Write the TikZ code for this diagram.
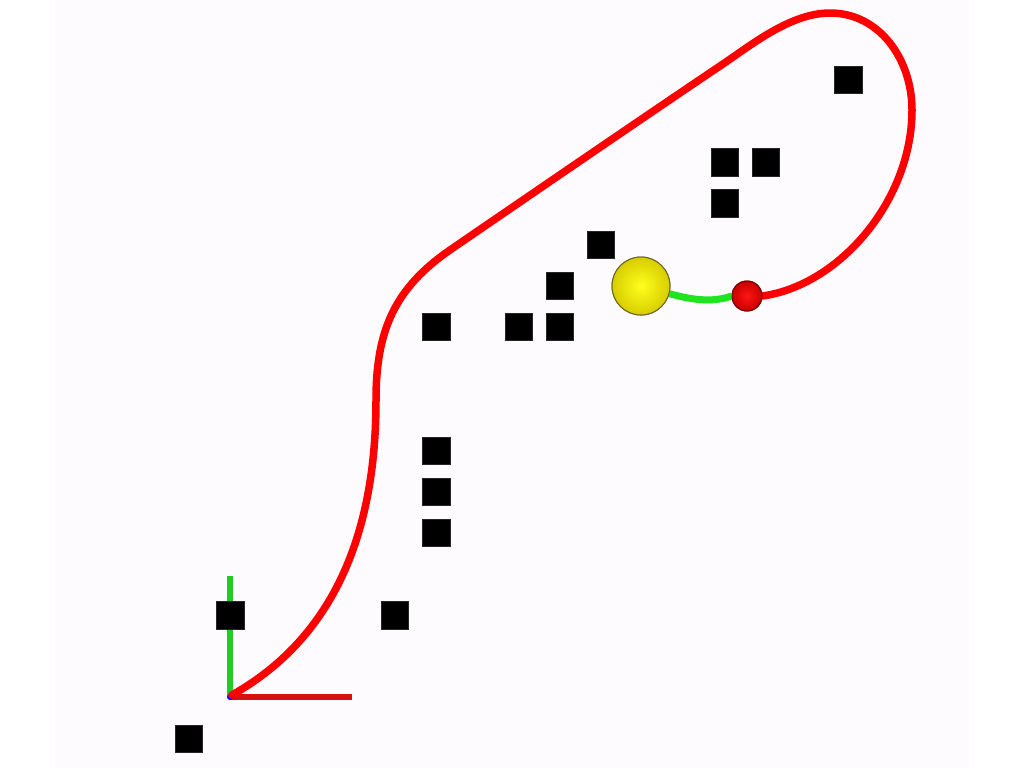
\documentclass[tikz,border=0pt]{standalone}
\definecolor{panel}{RGB}{253,251,254}
\definecolor{pathred}{RGB}{255,0,0}
\definecolor{axred}{RGB}{216,16,16}
\definecolor{axgreen}{RGB}{34,204,34}
\definecolor{linkgreen}{RGB}{30,230,30}
\definecolor{ballin}{RGB}{255,255,30}
\definecolor{ballout}{RGB}{215,205,0}
\definecolor{balledge}{RGB}{110,100,40}
\definecolor{goalin}{RGB}{255,20,20}
\definecolor{goalout}{RGB}{200,0,0}
\definecolor{goaledge}{RGB}{120,0,0}
\begin{document}
\begin{tikzpicture}[x=1pt,y=-1pt,
  obs/.style={fill=black,draw=black!85,line width=0.6pt,minimum size=27.5pt,inner sep=0pt,outer sep=0pt},
  pathline/.style={draw=pathred,line width=7.5pt,line cap=round,line join=round},
  axisx/.style={draw=axred,line width=6.5pt},
  axisy/.style={draw=axgreen,line width=6.5pt},
  link/.style={draw=linkgreen,line width=7pt},
  ballstyle/.style={circle,minimum size=58pt,inner sep=0pt,draw=balledge,line width=1pt,inner color=ballin,outer color=ballout},
  goalstyle/.style={circle,minimum size=30pt,inner sep=0pt,draw=goaledge,line width=1pt,inner color=goalin,outer color=goalout},
]
\useasboundingbox (0,0) rectangle (1024,768);
\fill[white] (0,0) rectangle (1024,768);
\fill[panel] (55,0) rectangle (969,768);

% frame
\coordinate (O) at (230,697);
\coordinate (Xend) at (352,697);
\coordinate (Yend) at (230,576);
\draw[axisy] (O) -- (Yend);
\draw[axisx] (O) -- (Xend);
\fill[blue] (O) circle (3);

% robot and goal
\node[ballstyle] (ball) at (641,286) {};
\node[goalstyle] (goal) at (747,296) {};

% trajectory
\draw[pathline] (232,695) .. controls (342,633) and (376,520) .. (376,400)
  .. controls (376,330) and (395,288) .. (450,250)
  .. controls (520,202) and (650,113) .. (720,66)
  .. controls (750,46) and (790,13) .. (830,13)
  .. controls (880,13) and (912,60) .. (912,110)
  .. controls (912,200) and (840,285) .. (goal.east);

% green link
\draw[link] (ball.-15) .. controls (695,301) and (715,302) .. (goal.west);
\node[ballstyle] at (ball) {};
\node[goalstyle] at (goal) {};

% obstacles
\foreach \c/\r [count=\i] in {0/0,1/3,5/3,6/5,6/6,6/7,6/10,8/10,9/10,9/11,10/12,13/13,13/14,14/14,16/16}
  \node[obs] (s\i) at ({189+41.2*\c},{739-41.2*\r}) {};
\end{tikzpicture}
\end{document}
